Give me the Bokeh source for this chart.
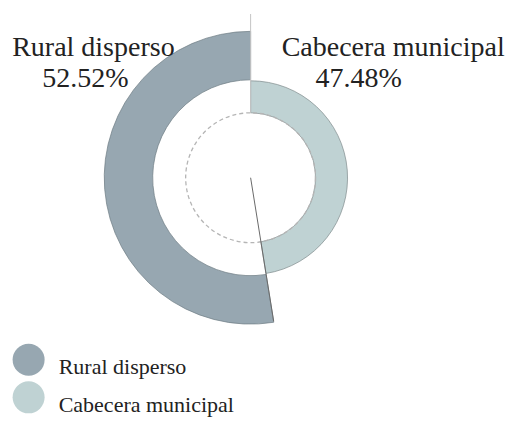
import math
from bokeh.plotting import figure
from bokeh.models import Range1d
from bokeh.core.properties import value
from bokeh.embed import file_html
from bokeh.resources import INLINE

# ---- data ----
categories = ["Rural disperso", "Cabecera municipal"]
percentages = [52.52, 47.48]
pct_labels = ["52.52%", "47.48%"]
colors = ["#97a7b1", "#bfd2d3"]

W, H = 508, 419
p = figure(width=W, height=H, output_backend="svg", toolbar_location=None,
           x_range=Range1d(0, 524), y_range=Range1d(0, 435), min_border=0)
p.axis.visible = False
p.grid.visible = False
p.outline_line_color = None
p.background_fill_color = "white"
p.border_fill_color = "white"

def Y(sy):
    return 435 - sy

cx, cy = 258, Y(184)
# ring radii per category: (inner, outer)
rings = [(101, 151), (67, 100)]

total = sum(percentages)
top = math.pi / 2
light_span = percentages[1] / total * 2 * math.pi
boundary = top - light_span

p.annular_wedge(x=[cx], y=[cy], inner_radius=rings[0][0], outer_radius=rings[0][1],
                start_angle=[top], end_angle=[boundary + 2 * math.pi], direction="anticlock",
                fill_color=colors[0], line_color="#6f7c84", line_width=0.7)
p.annular_wedge(x=[cx], y=[cy], inner_radius=rings[1][0], outer_radius=rings[1][1],
                start_angle=[boundary], end_angle=[top], direction="anticlock",
                fill_color=colors[1], line_color="#7f8b8c", line_width=0.7)

# dashed inner circle
p.circle(x=[cx], y=[cy], radius=rings[1][0], fill_color=None, line_color="#b5b5b5",
         line_dash="4 3", line_width=1.3)

# boundary line from center to outer edge
p.segment(x0=[cx], y0=[cy], x1=[cx + rings[0][1] * math.cos(boundary)],
          y1=[cy + rings[0][1] * math.sin(boundary)], line_color="#6a6a6a", line_width=1)
# vertical line at top
p.segment(x0=[cx], y0=[cy + rings[1][0]], x1=[cx], y1=[cy + 170],
          line_color="#c4c4c4", line_width=1)

font = value("Liberation Serif")
p.text(x=[12, 290], y=[Y(48), Y(48)], text=categories, text_font=font,
       text_font_size="28px", text_color="#222222", text_baseline="alphabetic",
       text_align="left")
p.text(x=[43, 325], y=[Y(80), Y(80)], text=pct_labels, text_font=font,
       text_font_size="28px", text_color="#222222", text_baseline="alphabetic",
       text_align="left")

# legend
p.scatter(x=[29, 29], y=[Y(373), Y(412)], size=32, marker="circle",
          fill_color=colors, line_color=None)
p.text(x=[60, 60], y=[Y(380), Y(419)], text=categories, text_font=font,
       text_font_size="22px", text_color="#222222", text_baseline="alphabetic",
       text_align="left")

open("out.html", "w").write(file_html(p, INLINE))
